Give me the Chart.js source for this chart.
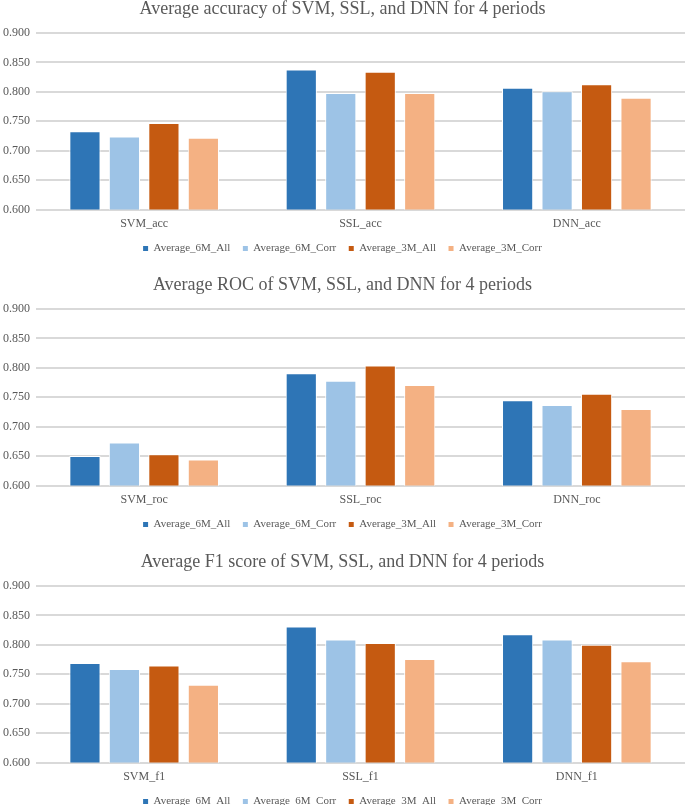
<!DOCTYPE html>
<html>
<head>
<meta charset="utf-8">
<script src="https://cdn.jsdelivr.net/npm/chart.js@4/dist/chart.umd.min.js"></script>
<style>
  body { margin: 0; background: #fff; width: 685px; height: 805px; overflow: hidden; position: relative; }
  .box { position: absolute; left: 0; width: 685px; height: 266px; }
</style>
</head>
<body>
<div class="box" style="top:-2px"><canvas id="chartAcc"></canvas></div>
<div class="box" style="top:274px"><canvas id="chartRoc"></canvas></div>
<div class="box" style="top:551px"><canvas id="chartF1"></canvas></div>
<script>
// series names + colours
const seriesNames = ['Average_6M_All', 'Average_6M_Corr', 'Average_3M_All', 'Average_3M_Corr'];
const seriesColors = ['#2e75b6', '#9dc3e6', '#c55a11', '#f4b183'];

// y axis ticks
const yTicks = [0.600, 0.650, 0.700, 0.750, 0.800, 0.850, 0.900];

// accuracy
const accLabels = ['SVM_acc', 'SSL_acc', 'DNN_acc'];
const acc6MAll = [0.733, 0.838, 0.807];
const acc6MCorr = [0.724, 0.798, 0.801];
const acc3MAll = [0.747, 0.834, 0.813];
const acc3MCorr = [0.722, 0.798, 0.790];

// roc
const rocLabels = ['SVM_roc', 'SSL_roc', 'DNN_roc'];
const roc6MAll = [0.650, 0.791, 0.745];
const roc6MCorr = [0.673, 0.778, 0.737];
const roc3MAll = [0.653, 0.804, 0.756];
const roc3MCorr = [0.644, 0.771, 0.730];

// f1
const f1Labels = ['SVM_f1', 'SSL_f1', 'DNN_f1'];
const f16MAll = [0.769, 0.831, 0.818];
const f16MCorr = [0.759, 0.809, 0.809];
const f13MAll = [0.765, 0.803, 0.800];
const f13MCorr = [0.732, 0.776, 0.772];

const fontFam = "'Liberation Serif', 'Times New Roman', serif";
const textCol = '#595959';
Chart.defaults.font.family = fontFam;
Chart.defaults.color = textCol;

function makeChart(id, title, labels, rows) {
  const datasets = rows.map((vals, i) => ({
    label: seriesNames[i],
    data: vals,
    backgroundColor: seriesColors[i],
    borderColor: '#ffffff',
    borderWidth: 1,
    barPercentage: 0.79,
    categoryPercentage: 0.73
  }));

  return new Chart(document.getElementById(id), {
    type: 'bar',
    data: { labels: labels, datasets: datasets },
    options: {
      responsive: true,
      maintainAspectRatio: false,
      animation: false,
      layout: { padding: 0 },
      plugins: {
        title: {
          display: true,
          text: title,
          font: { size: 18, weight: 'normal', family: fontFam },
          color: textCol,
          padding: { top: 0, bottom: 13.4 }
        },
        legend: {
          position: 'bottom',
          labels: {
            boxWidth: 5,
            boxHeight: 5,
            padding: 12.5,
            font: { size: 11, family: fontFam },
            color: textCol,
            generateLabels: function (chart) {
              const items = Chart.defaults.plugins.legend.labels.generateLabels(chart);
              items.forEach(it => { it.strokeStyle = it.fillStyle; it.lineWidth = 0; });
              return items;
            }
          }
        },
        tooltip: { enabled: false }
      },
      scales: {
        x: {
          // keep the axis box short so the legend sits close, labels still inside it
          afterFit: function (scale) { scale.height = 21; },
          grid: { display: false, drawTicks: false },
          border: { display: false },
          ticks: { padding: 7, font: { size: 12 }, color: textCol }
        },
        y: {
          min: yTicks[0],
          max: yTicks[yTicks.length - 1],
          afterFit: function (scale) { scale.width = 36; },
          afterBuildTicks: function (scale) { scale.ticks = yTicks.map(v => ({ value: v })); },
          grid: { color: '#d9d9d9', lineWidth: 2, drawTicks: false },
          border: { display: false },
          ticks: {
            padding: 6,
            font: { size: 12 },
            color: textCol,
            callback: v => v.toFixed(3)
          }
        }
      }
    }
  });
}

makeChart('chartAcc', 'Average accuracy of SVM, SSL, and DNN for 4 periods', accLabels,
  [acc6MAll, acc6MCorr, acc3MAll, acc3MCorr]);
makeChart('chartRoc', 'Average ROC of SVM, SSL, and DNN for 4 periods', rocLabels,
  [roc6MAll, roc6MCorr, roc3MAll, roc3MCorr]);
makeChart('chartF1', 'Average F1 score of SVM, SSL, and DNN for 4 periods', f1Labels,
  [f16MAll, f16MCorr, f13MAll, f13MCorr]);
</script>
</body>
</html>
